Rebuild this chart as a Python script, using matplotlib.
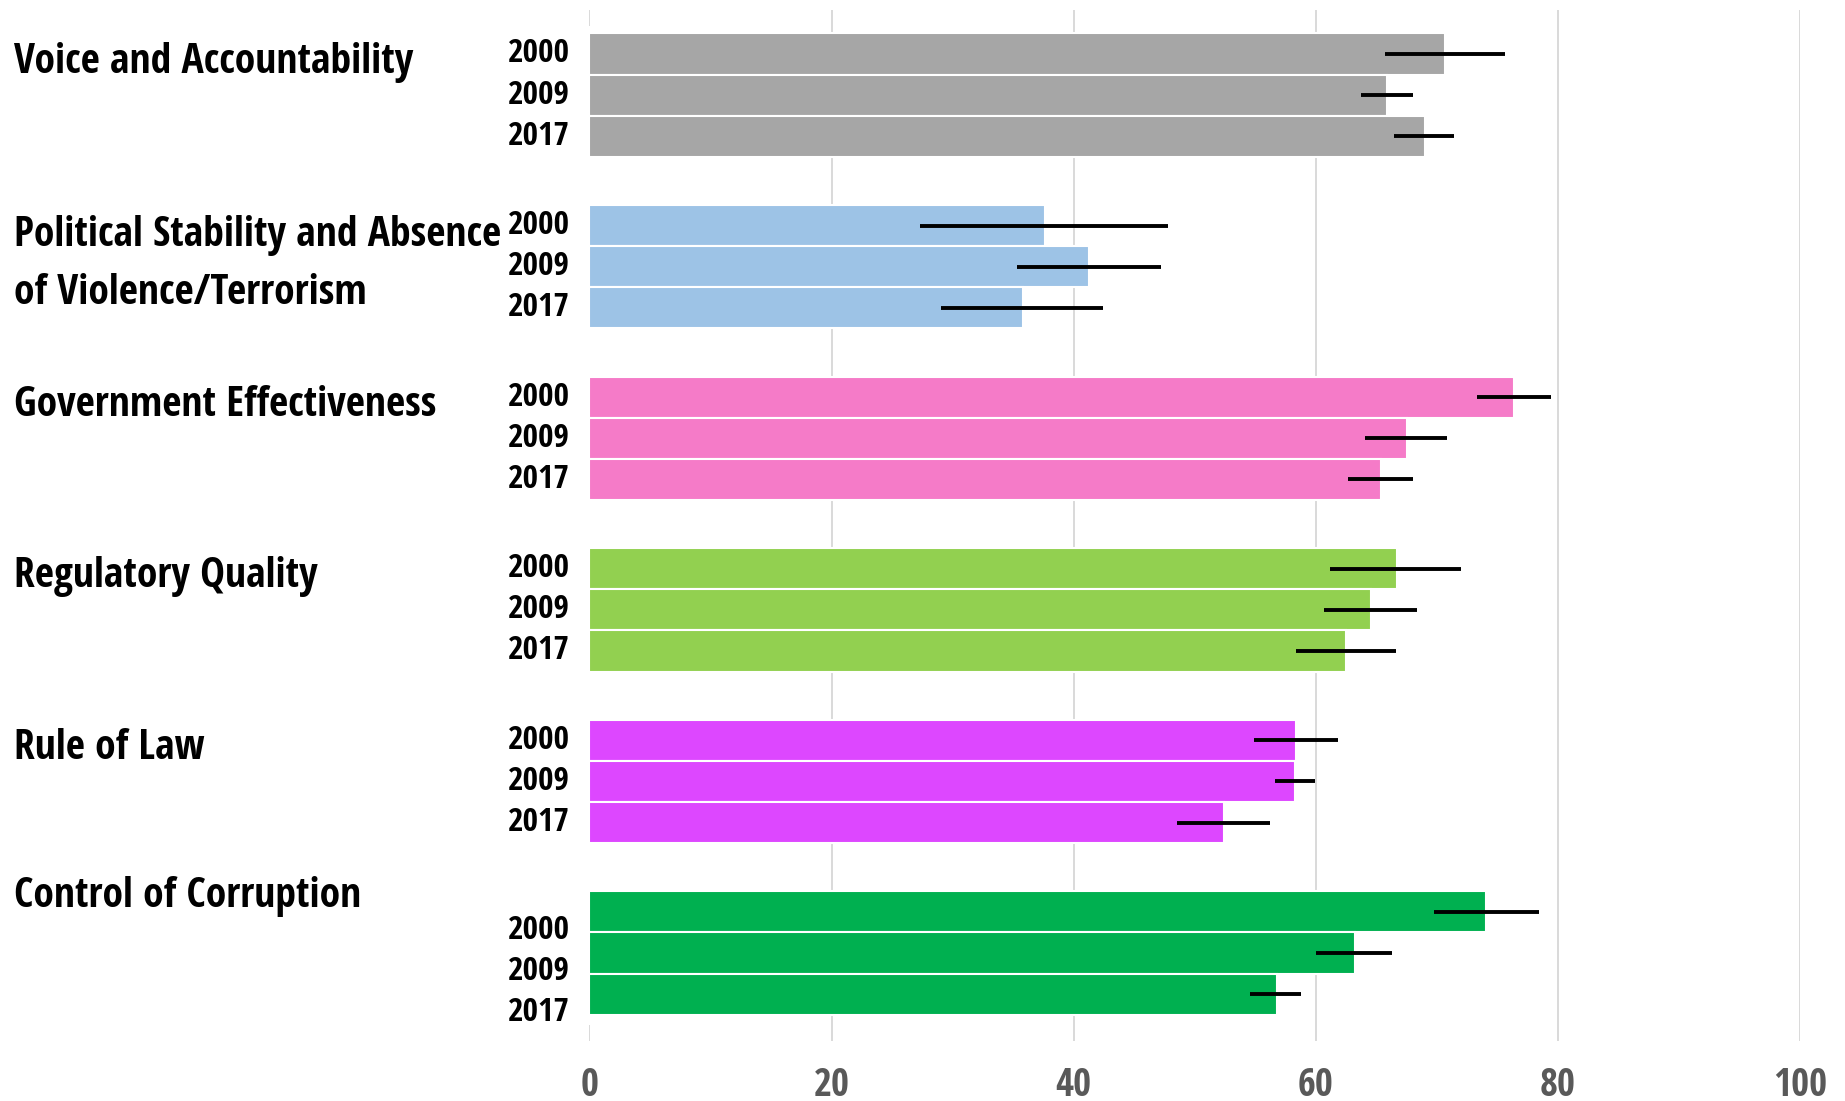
import matplotlib
matplotlib.use("Agg")
import matplotlib.pyplot as plt
import numpy as np

# ---- data ----
categories = ["Voice and Accountability",
              "Political Stability and Absence\nof Violence/Terrorism",
              "Government Effectiveness",
              "Regulatory Quality",
              "Rule of Law",
              "Control of Corruption"]
years = ["2000", "2009", "2017"]
values = [
    [70.7, 65.9, 69.0],
    [37.6, 41.3, 35.8],
    [76.4, 67.5, 65.4],
    [66.7, 64.6, 62.5],
    [58.4, 58.3, 52.4],
    [74.1, 63.2, 56.8],
]
err_low = [
    [65.7, 63.7, 66.5],
    [27.3, 35.3, 29.0],
    [73.3, 64.1, 62.7],
    [61.2, 60.7, 58.4],
    [54.9, 56.6, 48.5],
    [69.8, 60.0, 54.6],
]
err_high = [
    [75.6, 68.0, 71.4],
    [47.8, 47.2, 42.4],
    [79.4, 70.8, 68.0],
    [72.0, 68.4, 66.6],
    [61.8, 59.9, 56.2],
    [78.4, 66.3, 58.8],
]
x_ticks = [0, 20, 40, 60, 80, 100]

# ---- style / layout ----
colors = ["#A6A6A6", "#9DC3E6", "#F57BC8", "#92D050", "#DD47FF", "#00B050"]
group_period = 4.17
cat_label_offset = [0.22, 0.95, 0.20, 0.20, 0.20, -0.36]
year_label_offset = [0.0, 0.0, 0.0, 0.0, 0.0, 0.45]
FONT = ["Open Sans Condensed", "DejaVu Sans"]

plt.rcParams["font.family"] = FONT

fig = plt.figure(figsize=(18.45, 11.01), dpi=100)
ax = fig.add_axes([0.3195, 0.0545, 0.6561, 0.9365])

for g, cat in enumerate(categories):
    ys = g * group_period + np.arange(3)
    vals = np.array(values[g])
    lo = vals - np.array(err_low[g])
    hi = np.array(err_high[g]) - vals
    ax.barh(ys, vals, height=1.0, color=colors[g], edgecolor="white",
            linewidth=1.5, zorder=2)
    ax.errorbar(vals, ys, xerr=[lo, hi], fmt="none", ecolor="black",
                elinewidth=2.8, capsize=0, zorder=3)
    for j, yr in enumerate(years):
        ax.annotate(yr, xy=(0, ys[j] + year_label_offset[g]),
                    xycoords=("axes fraction", "data"),
                    xytext=(-20, 0), textcoords="offset pixels",
                    ha="right", va="center", fontsize=24,
                    fontweight="bold", color="black")
    ax.annotate(cat, xy=(14 / 1845, g * group_period + cat_label_offset[g]),
                xycoords=("figure fraction", "data"),
                ha="left", va="center", fontsize=30, fontweight="bold",
                color="black", linespacing=1.55)

ax.set_xlim(0, 100)
ax.set_ylim(-1.07, 23.99)
ax.invert_yaxis()
ax.set_xticks(x_ticks)
ax.set_xticklabels([str(t) for t in x_ticks], fontsize=28,
                   fontweight="bold", color="#595959")
ax.tick_params(axis="x", length=0, pad=18)
ax.set_yticks([])
for s in ax.spines.values():
    s.set_visible(False)
for t in x_ticks[1:]:
    ax.axvline(t, color="#D9D9D9", linewidth=1.4, zorder=0)
ax.axvline(0, ymin=0.0, ymax=0.015, color="#D9D9D9", linewidth=1.4, zorder=0)
ax.axvline(0, ymin=0.985, ymax=1.0, color="#D9D9D9", linewidth=1.4, zorder=0)

fig.savefig("out.png", dpi=100, facecolor="white")
